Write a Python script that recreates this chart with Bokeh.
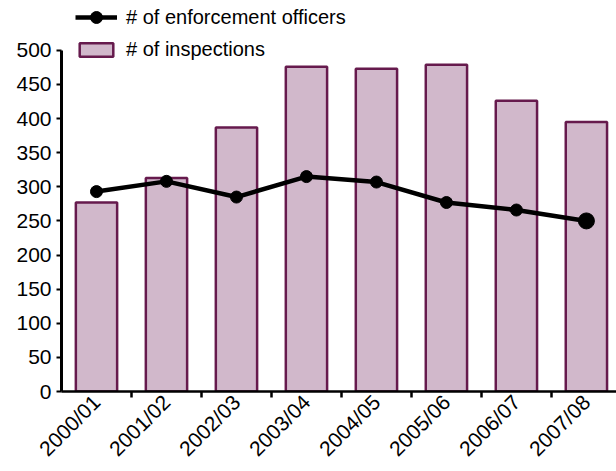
from math import pi
from bokeh.plotting import figure
from bokeh.models import Range1d, FixedTicker, Legend, LegendItem, ColumnDataSource
from bokeh.embed import file_html
from bokeh.resources import INLINE

years = ["2000/01", "2001/02", "2002/03", "2003/04", "2004/05", "2005/06", "2006/07", "2007/08"]
inspections = [277, 313, 387, 476, 473, 479, 426, 395]
officers = [293, 308, 285, 315, 307, 277, 266, 250]
y_ticks = [0, 50, 100, 150, 200, 250, 300, 350, 400, 450, 500]

xs = [i + 0.5 for i in range(len(years))]
src = ColumnDataSource(dict(x=xs, years=years, insp=inspections, off=officers))

FONT = "Liberation Sans"

p = figure(width=616, height=471, output_backend="svg", toolbar_location=None,
           x_range=Range1d(0, 7.93), y_range=Range1d(0, 573.1),
           min_border_left=61, min_border_top=0, min_border_right=0, min_border_bottom=79)
p.outline_line_color = None
p.xgrid.visible = False
p.ygrid.visible = False
p.background_fill_color = "white"
p.border_fill_color = "white"

bars = p.vbar(x="x", top="insp", width=0.59, source=src,
              fill_color="#D1B8CB", line_color="#661A4D", line_width=2.5)
ln = p.line(x="x", y="off", source=src, line_color="black", line_width=4.5)
pts = p.scatter(x="x", y="off", source=src, size=12, fill_color="black", line_color="black")
p.scatter(x=[xs[-1]], y=[officers[-1]], size=16, fill_color="black", line_color="black")

# x axis
xa = p.xaxis[0]
xa.ticker = FixedTicker(ticks=xs, minor_ticks=[float(i) for i in range(1, len(years))])
xa.major_label_overrides = {x: y for x, y in zip(xs, years)}
xa.major_label_orientation = pi / 4
xa.major_tick_out = 0
xa.major_tick_in = 0
xa.minor_tick_out = 6
xa.minor_tick_in = 0
xa.minor_tick_line_width = 2.5
xa.minor_tick_line_color = "black"
xa.axis_line_width = 2.5
xa.axis_line_color = "black"
xa.major_label_text_font = FONT
xa.major_label_text_font_size = "21px"
xa.major_label_text_color = "black"
xa.major_label_standoff = 1

ya = p.yaxis[0]
ya.ticker = FixedTicker(ticks=y_ticks)
ya.bounds = (0, 500)
ya.major_tick_out = 5
ya.major_tick_in = 0
ya.minor_tick_line_color = None
ya.major_tick_line_width = 2
ya.major_tick_line_color = "black"
ya.axis_line_width = 3
ya.axis_line_color = "black"
ya.major_label_text_font = FONT
ya.major_label_text_font_size = "21px"
ya.major_label_text_color = "black"
ya.major_label_standoff = 5


def style_legend(lg, gh):
    lg.border_line_color = None
    lg.background_fill_alpha = 0
    lg.padding = 0
    lg.margin = 0
    lg.spacing = 0
    lg.glyph_width = 42
    lg.glyph_height = gh
    lg.label_standoff = 9
    lg.label_text_font = FONT
    lg.label_text_font_size = "20px"
    lg.label_text_color = "black"
    lg.label_height = gh


legend1 = Legend(items=[LegendItem(label="# of enforcement officers", renderers=[ln, pts])],
                 location=(14, 359))
style_legend(legend1, 30)
legend2 = Legend(items=[LegendItem(label="# of inspections", renderers=[bars])],
                 location=(14, 330))
style_legend(legend2, 17)
p.add_layout(legend1)
p.add_layout(legend2)

open("out.html", "w").write(file_html(p, INLINE))
